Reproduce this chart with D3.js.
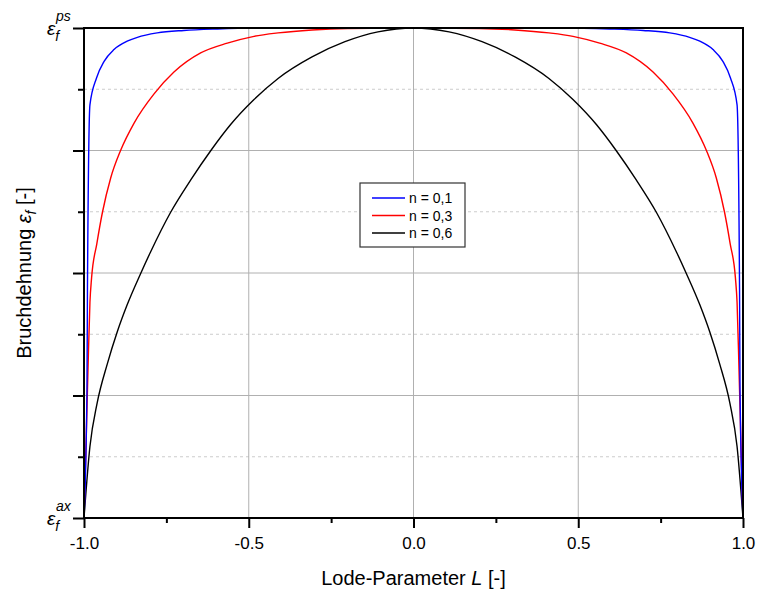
<!DOCTYPE html>
<html>
<head>
<meta charset="utf-8">
<script src="https://cdn.jsdelivr.net/npm/d3@7"></script>
<style>
  body { margin: 0; background: #fff; }
  svg { font-family: "Liberation Sans", Arial, sans-serif; }
</style>
</head>
<body>
<svg width="758" height="589"></svg>
<script>
// [L, relative fracture strain]
var blueData = [[-1,0],[-0.991,0.26],[-0.9895,0.47],[-0.982,0.843],[-0.962,0.898],[-0.939,0.932],[-0.909,0.956],
  [-0.869,0.973],[-0.838,0.981],[-0.778,0.99],[-0.697,0.995],[-0.595,0.998],[-0.45,1],[0,1],
  [0.45,1],[0.595,0.998],[0.697,0.995],[0.778,0.99],[0.838,0.981],[0.869,0.973],[0.909,0.956],[0.939,0.932],
  [0.962,0.898],[0.982,0.843],[0.9895,0.47],[0.991,0.26],[1,0]];
var redData = [[-1,0],[-0.995,0.12],[-0.988,0.3],[-0.982,0.44],[-0.977,0.49],[-0.961,0.56],[-0.944,0.624],
  [-0.919,0.694],[-0.889,0.75],[-0.848,0.806],[-0.788,0.865],[-0.727,0.91],[-0.646,0.949],[-0.565,0.969],
  [-0.484,0.983],[-0.411,0.99],[-0.308,0.996],[-0.2,0.999],[0,1],[0.2,0.999],[0.308,0.996],[0.411,0.99],
  [0.484,0.983],[0.565,0.969],[0.646,0.949],[0.727,0.91],[0.788,0.865],[0.848,0.806],[0.889,0.75],
  [0.919,0.694],[0.944,0.624],[0.961,0.56],[0.977,0.49],[0.982,0.44],[0.988,0.3],[0.995,0.12],[1,0]];
var blackData = [[-1,0],[-0.982,0.146],[-0.96,0.235],[-0.929,0.315],[-0.899,0.38],[-0.869,0.435],[-0.828,0.499],
  [-0.798,0.543],[-0.737,0.624],[-0.676,0.69],[-0.615,0.75],[-0.555,0.803],[-0.484,0.854],[-0.411,0.897],
  [-0.308,0.941],[-0.208,0.972],[-0.108,0.992],[0,1],[0.108,0.992],[0.208,0.972],[0.308,0.941],[0.411,0.897],
  [0.484,0.854],[0.555,0.803],[0.615,0.75],[0.676,0.69],[0.737,0.624],[0.798,0.543],[0.828,0.499],
  [0.869,0.435],[0.899,0.38],[0.929,0.315],[0.96,0.235],[0.982,0.146],[1,0]];
var seriesNames = ["n = 0,1", "n = 0,3", "n = 0,6"];
var seriesColors = ["#0000ff", "#ff0000", "#000000"];
var xTicks = [-1, -0.5, 0, 0.5, 1];
var xTickLabels = ["-1.0", "-0.5", "0.0", "0.5", "1.0"];
var xMinor = [-0.75, -0.25, 0.25, 0.75];
var yTicks = [0, 0.25, 0.5, 0.75, 1];
var yMinor = [0.125, 0.375, 0.625, 0.875];

var svg = d3.select("svg"),
    margin = {top: 28, right: 15, bottom: 71, left: 84},
    width = +svg.attr("width") - margin.left - margin.right,
    height = +svg.attr("height") - margin.top - margin.bottom;

var x = d3.scaleLinear().domain([-1, 1]).range([0, width]),
    y = d3.scaleLinear().domain([0, 1]).range([height, 0]);

var g = svg.append("g")
    .attr("transform", "translate(" + margin.left + "," + margin.top + ")");

// grid
g.selectAll(".gminor").data(yMinor).enter().append("line")
    .attr("x1", 0).attr("x2", width)
    .attr("y1", function(d) { return y(d); }).attr("y2", function(d) { return y(d); })
    .attr("stroke", "#cccccc").attr("stroke-dasharray", "3,3");
g.selectAll(".gy").data(yTicks.slice(1, 4)).enter().append("line")
    .attr("x1", 0).attr("x2", width)
    .attr("y1", function(d) { return y(d); }).attr("y2", function(d) { return y(d); })
    .attr("stroke", "#b0b0b0");
g.selectAll(".gx").data(xTicks.slice(1, 4)).enter().append("line")
    .attr("y1", 0).attr("y2", height)
    .attr("x1", function(d) { return x(d); }).attr("x2", function(d) { return x(d); })
    .attr("stroke", "#b0b0b0");

// legend
var leg = g.append("g").attr("transform", "translate(276,155)");
leg.append("rect").attr("width", 105).attr("height", 64)
    .attr("fill", "#fff").attr("stroke", "#333").attr("stroke-width", 1.2);
seriesNames.forEach(function(name, i) {
  leg.append("line").attr("x1", 12).attr("x2", 45)
     .attr("y1", 15 + i * 17.5).attr("y2", 15 + i * 17.5)
     .attr("stroke", seriesColors[i]).attr("stroke-width", 1.3);
  leg.append("text").attr("x", 49).attr("y", 20 + i * 17.5)
     .attr("font-size", 14).text(name);
});

// curves
var line = d3.line()
    .curve(d3.curveMonotoneX)
    .x(function(d) { return x(d[0]); })
    .y(function(d) { return y(d[1]); });
[blackData, redData, blueData].forEach(function(data, i) {
  g.append("path").datum(data)
    .attr("fill", "none")
    .attr("stroke", seriesColors[2 - i])
    .attr("stroke-width", 1.4)
    .attr("d", line);
});

// axes
var xAxis = d3.axisBottom(x).tickValues(xTicks).tickSize(10).tickPadding(9)
    .tickFormat(function(d, i) { return xTickLabels[i]; });
var xAxisMinor = d3.axisBottom(x).tickValues(xMinor).tickSize(5).tickFormat("");
var yAxis = d3.axisLeft(y).tickValues(yTicks).tickSize(11).tickFormat("");
var yAxisMinor = d3.axisLeft(y).tickValues(yMinor).tickSize(6).tickFormat("");

var gx = g.append("g").attr("class", "axis").attr("transform", "translate(0," + height + ")").call(xAxis);
g.append("g").attr("class", "axis").attr("transform", "translate(0," + height + ")").call(xAxisMinor);
g.append("g").attr("class", "axis").call(yAxis);
g.append("g").attr("class", "axis").call(yAxisMinor);

g.selectAll(".axis .domain").remove();
g.selectAll(".axis line").attr("stroke", "#000").attr("stroke-width", 2);
gx.selectAll("text").attr("font-size", 17).attr("fill", "#000")
    .attr("font-family", "Liberation Sans, Arial, sans-serif");

// frame
g.append("rect").attr("width", width).attr("height", height)
    .attr("fill", "none").attr("stroke", "#000").attr("stroke-width", 2);

// epsilon tick labels
function epsLabel(yy, sup) {
  var t = g.append("text").attr("x", -37).attr("y", yy + 7)
     .attr("font-size", 19).attr("font-style", "italic").attr("text-anchor", "start");
  t.append("tspan").text("ε");
  t.append("tspan").attr("font-size", 14).attr("dy", 6).attr("dx", 0).text("f");
  g.append("text").attr("x", -28).attr("y", yy - 7)
     .attr("font-size", 14).attr("font-style", "italic").text(sup);
}
epsLabel(y(1), "ps");
epsLabel(y(0), "ax");

// axis titles
var xt = svg.append("text").attr("x", margin.left + width / 2).attr("y", 585)
    .attr("text-anchor", "middle").attr("font-size", 20);
xt.append("tspan").text("Lode-Parameter ");
xt.append("tspan").attr("font-style", "italic").text("L");
xt.append("tspan").text(" [-]");

var yt = svg.append("text")
    .attr("transform", "translate(31," + (margin.top + height / 2) + ") rotate(-90)")
    .attr("text-anchor", "middle").attr("font-size", 20);
yt.append("tspan").text("Bruchdehnung ");
yt.append("tspan").attr("font-style", "italic").text("ε");
yt.append("tspan").attr("font-style", "italic").attr("font-size", 14).attr("dy", 5).text("f");
yt.append("tspan").attr("dy", -5).text(" [-]");
</script>
</body>
</html>
